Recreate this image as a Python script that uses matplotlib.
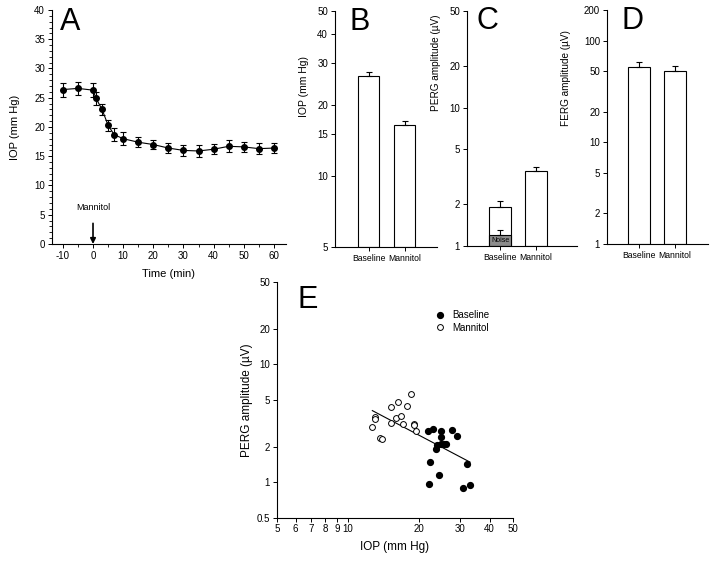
import numpy as np
import matplotlib
matplotlib.use('Agg')
import matplotlib.pyplot as plt
from matplotlib.ticker import FixedLocator, NullLocator, MultipleLocator

plt.rcParams['font.family'] = ['Liberation Sans', 'DejaVu Sans']
plt.rcParams['axes.unicode_minus'] = False

# Panel A: IOP time course
time_min = [-10, -5, 0, 1, 3, 5, 7, 10, 15, 20, 25, 30, 35, 40, 45, 50, 55, 60]
iop_mean = [26.4, 26.6, 26.3, 24.9, 23.0, 20.3, 18.7, 18.0, 17.4, 17.0, 16.4,
            16.0, 15.9, 16.2, 16.7, 16.6, 16.3, 16.4]
iop_sem = [1.2, 1.1, 1.2, 1.1, 1.0, 0.9, 1.1, 1.1, 0.9, 0.8, 0.9, 0.95, 0.95,
           0.9, 1.0, 0.9, 0.9, 0.8]

groups = ['Baseline', 'Mannitol']
# Panel B: IOP
iop_bar = [26.4, 16.4]
iop_bar_err = [1.1, 0.7]
# Panel C: PERG
perg_bar = [1.93, 3.47]
perg_bar_err = [0.17, 0.26]
noise_val = 1.20
noise_err = 0.10
# Panel D: FERG
ferg_bar = [55.5, 50.4]
ferg_bar_err = [6.2, 6.0]

# Panel E: PERG vs IOP scatter
mann_iop = [12.7, 13.0, 13.05, 13.7, 13.9, 15.3, 15.3, 16.3, 16.0, 16.8, 17.1,
            17.9, 18.6, 19.1, 19.1, 19.4]
mann_perg = [2.93, 3.54, 3.41, 2.35, 2.30, 4.31, 3.19, 4.79, 3.52, 3.66, 3.11,
             4.40, 5.56, 3.13, 3.03, 2.71]
base_iop = [21.8, 22.9, 22.4, 22.2, 23.7, 23.9, 24.4, 24.9, 24.9, 24.9, 25.5,
            26.0, 27.8, 29.1, 32.0, 30.8, 33.0]
base_perg = [2.71, 2.84, 1.47, 0.955, 1.90, 2.08, 1.15, 2.73, 2.40, 2.09, 2.12,
             2.12, 2.77, 2.44, 1.41, 0.895, 0.937]

W, H = 714, 562
fig = plt.figure(figsize=(W / 100, H / 100), dpi=100)
fig.patch.set_facecolor('white')


def px_axes(left, top, right, bottom):
    return fig.add_axes([left / W, 1 - bottom / H, (right - left) / W, (bottom - top) / H])


def style(ax):
    for s in ['top', 'right']:
        ax.spines[s].set_visible(False)
    for s in ['left', 'bottom']:
        ax.spines[s].set_linewidth(0.8)
    ax.tick_params(which='major', direction='out', length=3, width=0.7, labelsize=7, pad=2)
    ax.tick_params(which='minor', direction='out', length=2, width=0.6)


def panel_letter(x, y, s):
    fig.text(x / W, 1 - y / H, s, fontsize=22, ha='center', va='center')


def bar_panel(ax, vals, errs, base, top, ticks, xlim, width):
    xpos = np.arange(len(vals))
    heights = [v - base for v in vals]
    ax.bar(xpos, heights, bottom=base, width=width, color='white',
           edgecolor='black', linewidth=0.8, zorder=2)
    ax.errorbar(xpos, vals, yerr=[[0] * len(vals), errs], fmt='none',
                ecolor='black', elinewidth=0.8, capsize=2.5, capthick=0.8, zorder=3)
    ax.set_yscale('log')
    ax.set_ylim(base, top)
    ax.yaxis.set_major_locator(FixedLocator(ticks))
    ax.yaxis.set_minor_locator(NullLocator())
    ax.set_yticklabels([str(t) for t in ticks])
    ax.set_xlim(*xlim)
    ax.set_xticks(xpos)
    style(ax)
    ax.set_xticklabels(groups, fontsize=6.2)


# ---- A ----
axA = px_axes(52, 10, 286, 244)
axA.errorbar(time_min, iop_mean, yerr=iop_sem, fmt='o-', color='black',
             markersize=4, linewidth=0.8, elinewidth=0.8, capsize=2.5, capthick=0.8)
axA.set_xlim(-13.6, 64)
axA.set_ylim(0, 40)
axA.xaxis.set_major_locator(FixedLocator(list(range(-10, 61, 10))))
axA.xaxis.set_minor_locator(MultipleLocator(5))
axA.yaxis.set_major_locator(MultipleLocator(5))
axA.yaxis.set_minor_locator(MultipleLocator(1))
style(axA)
axA.set_xlabel('Time (min)', fontsize=8, labelpad=6)
axA.set_ylabel('IOP (mm Hg)', fontsize=8, labelpad=10)
axA.annotate('Mannitol', xy=(0, 0), xytext=(0, 6.2), ha='center', va='center',
             fontsize=6.5,
             arrowprops=dict(arrowstyle='-|>', color='black', lw=1.2,
                             shrinkA=6, shrinkB=0, mutation_scale=8))
panel_letter(70, 22, 'A')

# ---- B ----
axB = px_axes(335, 11, 437, 247)
bar_panel(axB, iop_bar, iop_bar_err, 5, 50, [5, 10, 15, 20, 30, 40, 50],
          (-0.93, 1.9), 0.58)
axB.set_ylabel('IOP (mm Hg)', fontsize=7.5)
axB.yaxis.set_label_coords(-0.255, 0.68)
panel_letter(360, 22, 'B')

# ---- C ----
axC = px_axes(467, 11, 577, 246)
bar_panel(axC, perg_bar, perg_bar_err, 1, 50, [1, 2, 5, 10, 20, 50],
          (-0.92, 2.14), 0.6)
axC.bar([0], [noise_val - 1], bottom=1, width=0.6, color='#8c8c8c',
        edgecolor='black', linewidth=0.8, zorder=2.5)
axC.errorbar([0], [noise_val], yerr=[[0], [noise_err]], fmt='none', ecolor='black',
             elinewidth=0.8, capsize=2.5, capthick=0.8, zorder=3)
axC.text(0, np.sqrt(noise_val), 'Noise', ha='center', va='center', fontsize=5, zorder=4)
axC.set_ylabel('PERG amplitude (\u00b5V)', fontsize=7.2)
axC.yaxis.set_label_coords(-0.236, 0.78)
panel_letter(487, 21, 'C')

# ---- D ----
axD = px_axes(607, 10, 708, 244)
bar_panel(axD, ferg_bar, ferg_bar_err, 1, 200, [1, 2, 5, 10, 20, 50, 100, 200],
          (-0.89, 1.92), 0.6)
axD.set_ylabel('FERG amplitude (\u00b5V)', fontsize=7.2)
axD.yaxis.set_label_coords(-0.36, 0.71)
panel_letter(632, 21, 'D')

# ---- E ----
axE = px_axes(277, 282, 512.5, 517.5)
axE.plot(base_iop, base_perg, 'o', color='black', markersize=4.2,
         linestyle='none', label='Baseline', zorder=3)
axE.plot(mann_iop, mann_perg, 'o', markerfacecolor='white', markeredgecolor='black',
         markeredgewidth=0.7, markersize=4.2, linestyle='none', label='Mannitol', zorder=3)
all_x = np.array(mann_iop + base_iop)
all_y = np.array(mann_perg + base_perg)
slope, icpt = np.polyfit(np.log10(all_x), np.log10(all_y), 1)
fx = np.array([all_x.min(), all_x.max()])
axE.plot(fx, 10 ** (icpt + slope * np.log10(fx)), color='black', linewidth=0.8, zorder=2)
axE.set_xscale('log')
axE.set_yscale('log')
axE.set_xlim(5, 50)
axE.set_ylim(0.5, 50)
xt = [5, 6, 7, 8, 9, 10, 20, 30, 40, 50]
yt = [0.5, 1, 2, 5, 10, 20, 50]
axE.xaxis.set_major_locator(FixedLocator(xt))
axE.xaxis.set_minor_locator(NullLocator())
axE.set_xticklabels([str(t) for t in xt])
axE.yaxis.set_major_locator(FixedLocator(yt))
axE.yaxis.set_minor_locator(NullLocator())
axE.set_yticklabels([str(t) for t in yt])
style(axE)
axE.set_xlabel('IOP (mm Hg)', fontsize=8.5, labelpad=5)
axE.set_ylabel('PERG amplitude (\u00b5V)', fontsize=8.5, labelpad=3)
axE.legend(loc='upper left', bbox_to_anchor=(0.645, 0.9), frameon=False, fontsize=7,
           handletextpad=0.7, labelspacing=0.25, borderpad=0, handlelength=1.2)
panel_letter(308, 300, 'E')

plt.savefig('out.png', dpi=100, facecolor='white')
